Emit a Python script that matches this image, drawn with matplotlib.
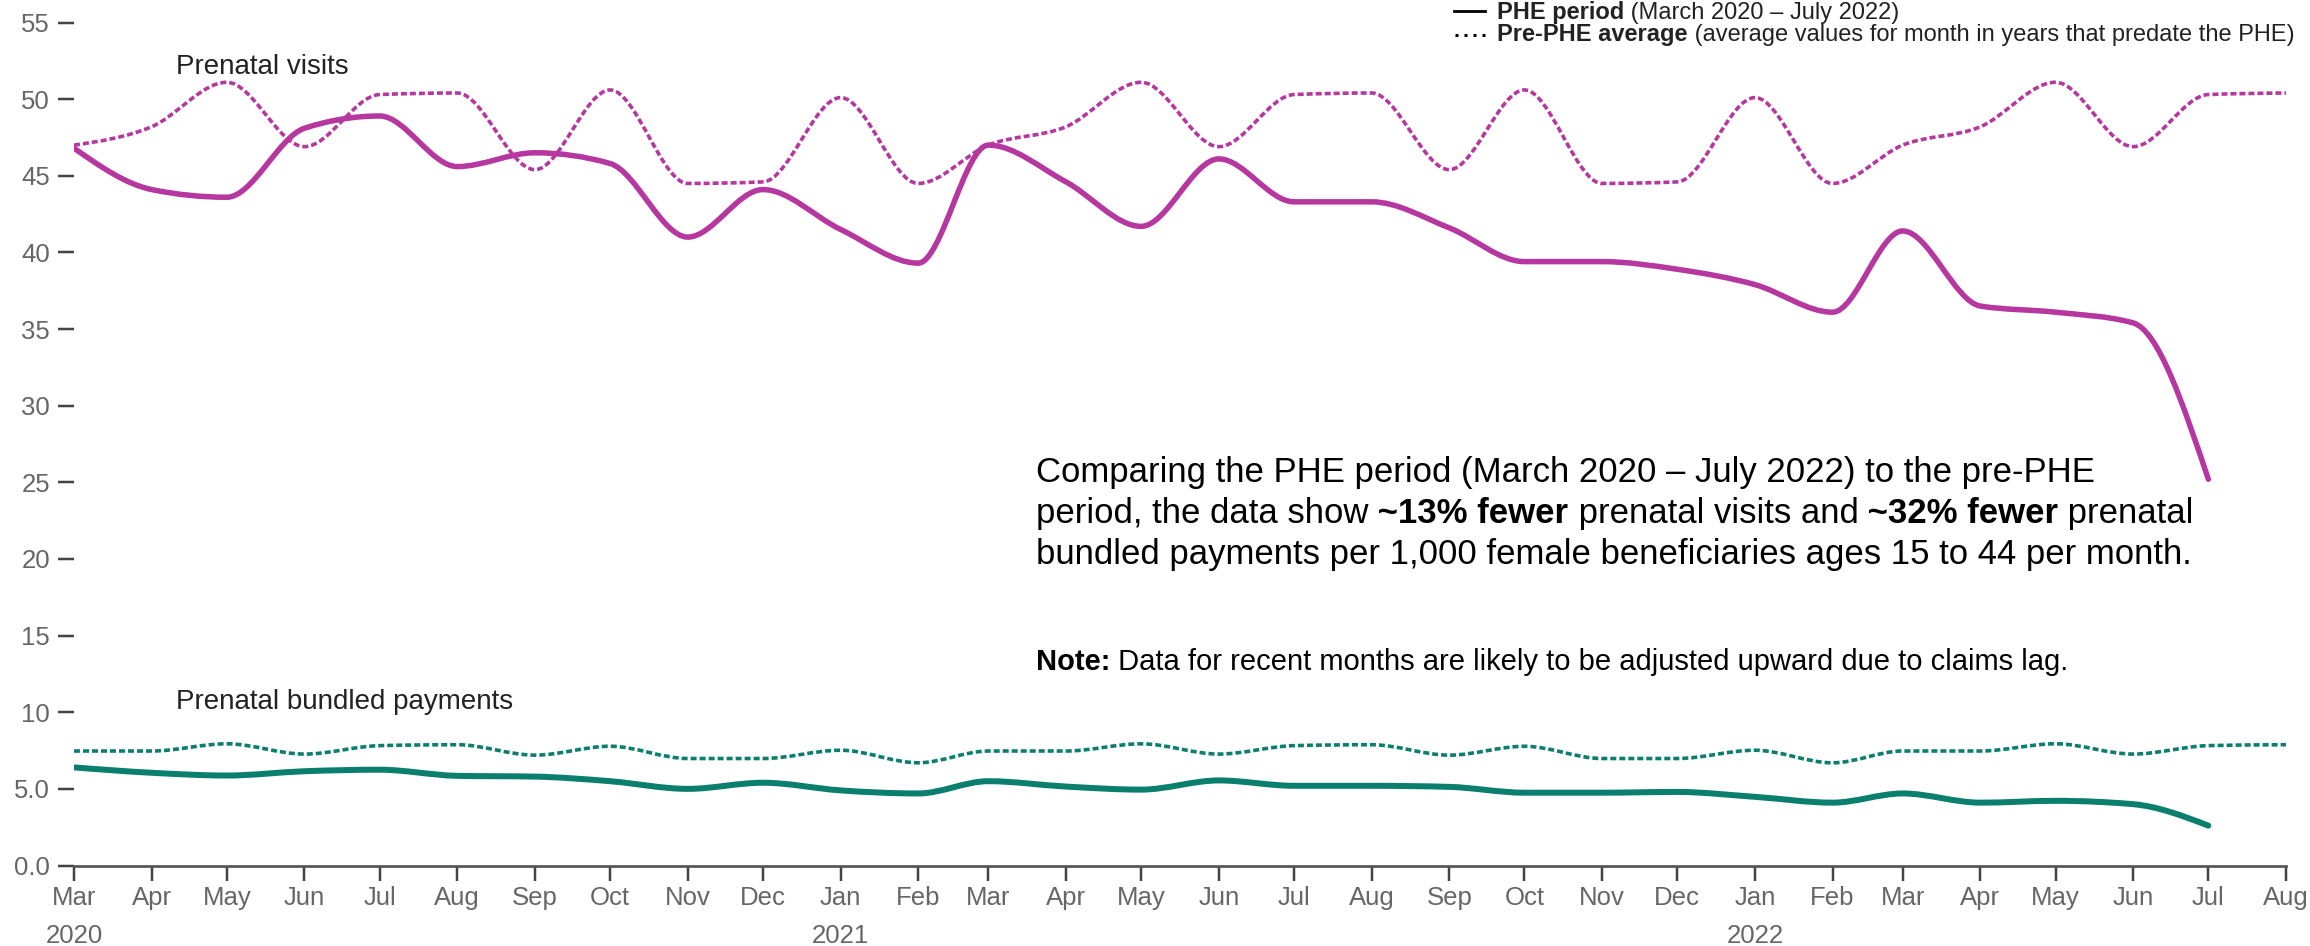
import numpy as np
import pandas as pd
import matplotlib
matplotlib.use("Agg")
import matplotlib.pyplot as plt
import matplotlib.dates as mdates
from matplotlib.path import Path
from matplotlib.patches import PathPatch
from matplotlib.lines import Line2D

plt.rcParams['font.family'] = ['Liberation Sans', 'DejaVu Sans']
plt.rcParams['lines.scale_dashes'] = False

# Monthly rates per 1,000 female beneficiaries ages 15-44
months = pd.date_range('2020-03-01', '2022-08-01', freq='MS')
phe_months = months[:-1]  # PHE series stops in July 2022

visits_phe = [46.8, 44.1, 43.6, 48.1, 48.9, 45.6, 46.5, 45.8, 41.0, 44.1,
              41.5, 39.3, 47.0, 44.6, 41.7, 46.1, 43.3, 43.3, 41.6, 39.4,
              39.4, 38.9, 37.9, 36.1, 41.4, 36.5, 36.1, 35.4, 25.2]
visits_pre = [47.0, 48.2, 51.1, 46.9, 50.3, 50.4, 45.4, 50.6, 44.5, 44.6,
              50.1, 44.5, 47.0, 48.2, 51.1, 46.9, 50.3, 50.4, 45.4, 50.6,
              44.5, 44.6, 50.1, 44.5, 47.0, 48.2, 51.1, 46.9, 50.3, 50.4]
bundled_phe = [6.4, 6.05, 5.87, 6.15, 6.25, 5.85, 5.8, 5.5, 5.0, 5.4,
               4.9, 4.7, 5.5, 5.15, 4.95, 5.55, 5.2, 5.2, 5.13, 4.75,
               4.75, 4.8, 4.48, 4.1, 4.7, 4.1, 4.22, 4.0, 2.6]
bundled_pre = [7.47, 7.47, 7.94, 7.27, 7.82, 7.88, 7.2, 7.78, 6.98, 6.98,
               7.52, 6.7, 7.47, 7.47, 7.94, 7.27, 7.82, 7.88, 7.2, 7.78,
               6.98, 6.98, 7.52, 6.7, 7.47, 7.47, 7.94, 7.27, 7.82, 7.88]

y_ticks = [0, 5, 10, 15, 20, 25, 30, 35, 40, 45, 50, 55]
y_ticklabels = ['0.0', '5.0', '10', '15', '20', '25', '30', '35', '40', '45', '50', '55']
year_dates = pd.to_datetime(['2020-03-01', '2021-01-01', '2022-01-01'])
year_labels = ['2020', '2021', '2022']

MAGENTA = '#B5379F'
TEAL = '#0B7F6D'
W, H = 2310, 946
PX = 72 / 100  # points per pixel at dpi 100


def monotone_path(x, y):
    # cubic bezier segments with monotone-x tangents
    x = np.asarray(x, float)
    y = np.asarray(y, float)
    n = len(x)
    h = np.diff(x)
    s = np.diff(y) / h
    t = np.zeros(n)

    def sgn(v):
        return -1.0 if v < 0 else 1.0

    for i in range(1, n - 1):
        p = (s[i - 1] * h[i] + s[i] * h[i - 1]) / (h[i - 1] + h[i])
        t[i] = (sgn(s[i - 1]) + sgn(s[i])) * min(abs(s[i - 1]), abs(s[i]), 0.5 * abs(p))
    t[0] = (3 * s[0] - t[1]) / 2
    t[-1] = (3 * s[-1] - t[-2]) / 2
    verts = [(x[0], y[0])]
    codes = [Path.MOVETO]
    for i in range(n - 1):
        dx = h[i] / 3
        verts += [(x[i] + dx, y[i] + dx * t[i]),
                  (x[i + 1] - dx, y[i + 1] - dx * t[i + 1]),
                  (x[i + 1], y[i + 1])]
        codes += [Path.CURVE4] * 3
    return Path(verts, codes)


def draw_curve(ax, dates, values, color, dashed, lw=5.5):
    path = monotone_path(mdates.date2num(dates), values)
    if dashed:
        style = dict(lw=3.6 * PX, linestyle=(0, (6 * PX, 3 * PX)), capstyle='butt')
    else:
        style = dict(lw=lw * PX, linestyle='-', capstyle='round')
    ax.add_patch(PathPatch(path, facecolor='none', edgecolor=color,
                           joinstyle='round', **style))


fig = plt.figure(figsize=(W / 100, H / 100), dpi=100)
ax = fig.add_axes([74 / W, 1 - 865.5 / H, (2286 - 74) / W, (865.5 - 22.5) / H])

draw_curve(ax, months, visits_pre, MAGENTA, True)
draw_curve(ax, phe_months, visits_phe, MAGENTA, False, 5.5)
draw_curve(ax, months, bundled_pre, TEAL, True)
draw_curve(ax, phe_months, bundled_phe, TEAL, False, 6)

ax.set_xlim(mdates.date2num(months[0]), mdates.date2num(months[-1]))
ax.set_ylim(0, 55)
ax.set_yticks(y_ticks)
ax.set_yticklabels(y_ticklabels)
ax.xaxis.set_major_locator(mdates.MonthLocator())
ax.xaxis.set_major_formatter(mdates.DateFormatter('%b'))

for side in ['top', 'right', 'left']:
    ax.spines[side].set_visible(False)
ax.spines['bottom'].set_color('#555555')
ax.spines['bottom'].set_linewidth(2.7 * PX)
ax.tick_params(axis='y', length=16 * PX, width=2.5 * PX, color='#444444',
               pad=8 * PX, labelsize=18.5, labelcolor='#666666')
ax.tick_params(axis='x', length=15 * PX, width=2.5 * PX, color='#444444',
               pad=5.5 * PX, labelsize=18.5, labelcolor='#666666')

for d, lab in zip(year_dates, year_labels):
    ax.annotate(lab, xy=(mdates.date2num(d), 0), xycoords=('data', 'axes fraction'),
                xytext=(0, -(943 - 865.5) * PX), textcoords='offset points',
                ha='center', va='baseline', fontsize=18.5, color='#666666',
                annotation_clip=False)


def rich_line(x, y, parts, size, color='black'):
    # pieces of one line set side by side, x/y in pixels from top-left
    r = fig.canvas.get_renderer()
    for text, weight in parts:
        t = fig.text(x / W, 1 - y / H, text, fontsize=size, fontweight=weight,
                     color=color, ha='left', va='baseline')
        x = t.get_window_extent(r).x1


# series labels
rich_line(176, 74, [('Prenatal visits', 'normal')], 20, '#222222')
rich_line(176, 709, [('Prenatal bundled payments', 'normal')], 20, '#222222')

# summary text
rich_line(1036, 482, [('Comparing the PHE period (March 2020 \u2013 July 2022) to the pre-PHE', 'normal')], 25)
rich_line(1036, 523, [('period, the data show', 'normal'), (' ~13% fewer', 'bold'),
                      (' prenatal visits and', 'normal'), (' ~32% fewer', 'bold'),
                      (' prenatal', 'normal')], 25)
rich_line(1036, 564, [('bundled payments per 1,000 female beneficiaries ages 15 to 44 per month.', 'normal')], 25)
rich_line(1036, 670, [('Note:', 'bold'),
                      (' Data for recent months are likely to be adjusted upward due to claims lag.', 'normal')], 21)

# legend
fig.add_artist(Line2D([1454 / W, 1485 / W], [1 - 11 / H] * 2, transform=fig.transFigure,
                      color='black', lw=2.8 * PX))
fig.add_artist(Line2D([1455 / W, 1486 / W], [1 - 35 / H] * 2, transform=fig.transFigure,
                      color='black', lw=3 * PX, linestyle=(0, (3 * PX, 6 * PX))))
rich_line(1497, 18.5, [('PHE period', 'bold'), (' (March 2020 \u2013 July 2022)', 'normal')], 17, '#222222')
rich_line(1497, 41.5, [('Pre-PHE average', 'bold'),
                       (' (average values for month in years that predate the PHE)', 'normal')], 17, '#222222')

fig.savefig('out.png', dpi=100)
